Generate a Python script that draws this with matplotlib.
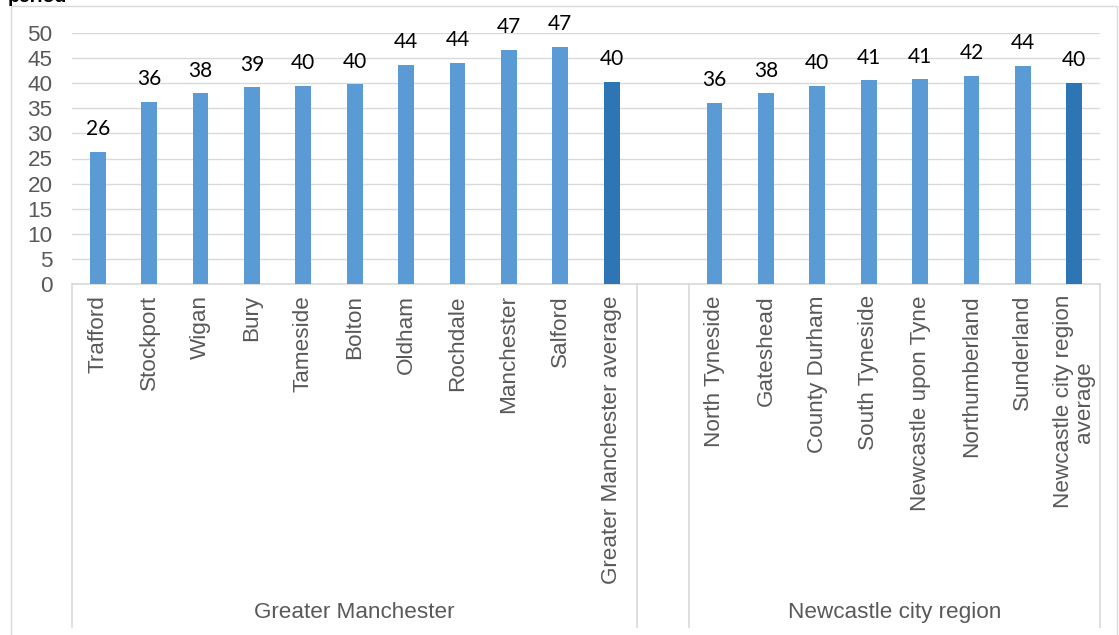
import matplotlib
matplotlib.use("Agg")
import matplotlib.pyplot as plt
from matplotlib.patches import Rectangle
from matplotlib.lines import Line2D

gm_names = ["Trafford", "Stockport", "Wigan", "Bury", "Tameside", "Bolton",
            "Oldham", "Rochdale", "Manchester", "Salford", "Greater Manchester average"]
gm_values = [26.3, 36.3, 38.0, 39.2, 39.5, 39.8, 43.7, 44.1, 46.7, 47.2, 40.3]
nc_names = ["North Tyneside", "Gateshead", "County Durham", "South Tyneside",
            "Newcastle upon Tyne", "Northumberland", "Sunderland",
            "Newcastle city region\naverage"]
nc_values = [36.1, 38.0, 39.5, 40.6, 40.8, 41.5, 43.5, 40.1]
groups = ["Greater Manchester", "Newcastle city region"]
y_ticks = [0, 5, 10, 15, 20, 25, 30, 35, 40, 45, 50]

LIGHT = "#5B9BD5"
DARK = "#2E75B6"
GRID = "#D9D9D9"
TXT = "#595959"
FS = 16.2

W, H = 1119, 635
fig = plt.figure(figsize=(W / 100, H / 100), dpi=100)

# outer chart frame
fig.patches.append(Rectangle((11 / W, -0.01), (1117 - 11) / W, (H - 6) / H + 0.01,
                             transform=fig.transFigure, fill=False,
                             edgecolor=GRID, linewidth=1.0))
# cut-off title (only its lower edge is visible in the reference)
fig.text(8 / W, 1 - 2 / H, "period", fontsize=14, fontweight="bold",
         family="Liberation Sans", va="baseline", ha="left", color="black")

x0, x1 = 72, 1100
yb, yt = 284, 33
ax = fig.add_axes([x0 / W, (H - yb) / H, (x1 - x0) / W, (yb - yt) / H])

n_slots = len(gm_values) + 1 + len(nc_values)
positions = []
values = []
names = []
colors = []
for i, (nm, v) in enumerate(zip(gm_names, gm_values)):
    positions.append(i)
    values.append(v)
    names.append(nm)
    colors.append(DARK if i == len(gm_values) - 1 else LIGHT)
off = len(gm_values) + 1
for i, (nm, v) in enumerate(zip(nc_names, nc_values)):
    positions.append(off + i)
    values.append(v)
    names.append(nm)
    colors.append(DARK if i == len(nc_values) - 1 else LIGHT)

ax.bar(positions, values, width=0.31, color=colors, zorder=3)
ax.set_xlim(-0.5, n_slots - 0.5)
ax.set_ylim(0, 50)
ax.set_yticks(y_ticks)
ax.set_yticklabels([str(t) for t in y_ticks], family="Liberation Sans",
                   fontsize=FS, color=TXT)
ax.tick_params(axis="y", length=0, pad=14)
ax.set_xticks([])
ax.grid(axis="y", color=GRID, linewidth=1.0, zorder=0)
for s in ["left", "right", "top"]:
    ax.spines[s].set_visible(False)
ax.spines["bottom"].set_color(GRID)
ax.spines["bottom"].set_linewidth(1.2)

for p, v in zip(positions, values):
    ax.annotate(f"{round(v):d}", (p, v), xytext=(0, 12), textcoords="offset points",
                ha="center", va="baseline", fontsize=15, family="Lato", color="black")

# category labels
ytop_lab = -(295 - yb) / (yb - yt)
for p, nm in zip(positions, names):
    ax.text(p, ytop_lab, nm, rotation=90, ha="center", va="top",
            family="Liberation Sans", fontsize=FS, color=TXT,
            transform=ax.get_xaxis_transform(), multialignment="center",
            linespacing=1.0)

# group separators
ybot = -(627 - yb) / (yb - yt)
for xs in [-0.5, len(gm_values) - 0.5, len(gm_values) + 0.5, n_slots - 0.5]:
    ax.add_line(Line2D([xs, xs], [0, ybot], transform=ax.get_xaxis_transform(),
                       color=GRID, linewidth=1.2, clip_on=False))

ygrp = -(612 - yb) / (yb - yt)
ax.text((len(gm_values) - 1) / 2, ygrp, groups[0], ha="center", va="center",
        family="Liberation Sans", fontsize=FS, color=TXT,
        transform=ax.get_xaxis_transform())
ax.text(off + (len(nc_values) - 1) / 2, ygrp, groups[1], ha="center", va="center",
        family="Liberation Sans", fontsize=FS, color=TXT,
        transform=ax.get_xaxis_transform())

fig.savefig("out.png", dpi=100)
